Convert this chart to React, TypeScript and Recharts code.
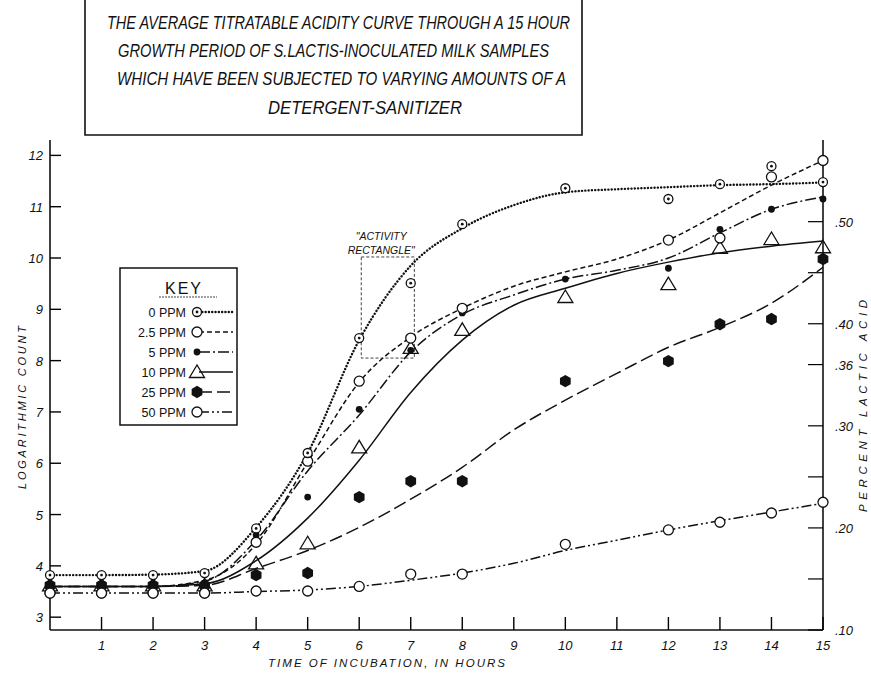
import React from 'react';
import { ComposedChart, Line, Scatter, XAxis, YAxis, ReferenceArea, Legend } from 'recharts';

// ---------- DATA ----------
const seriesNames = ['0 PPM', '2.5 PPM', '5 PPM', '10 PPM', '25 PPM', '50 PPM'];

// fitted curves (read at each hour)
const curveHours = [0, 1, 2, 3, 4, 5, 6, 7, 8, 9, 10, 11, 12, 13, 14, 15];
const fit0 = [3.82, 3.82, 3.83, 3.9, 4.75, 6.2, 8.4, 9.85, 10.58, 11.03, 11.28, 11.34, 11.38, 11.42, 11.44, 11.47];
const fit2_5 = [3.6, 3.6, 3.6, 3.72, 4.42, 6.02, 7.58, 8.46, 9.02, 9.45, 9.73, 9.98, 10.35, 10.88, 11.42, 11.9];
const fit5 = [3.6, 3.6, 3.6, 3.7, 4.5, 5.85, 6.94, 8.17, 8.9, 9.28, 9.59, 9.76, 10.0, 10.49, 10.95, 11.19];
const fit10 = [3.6, 3.6, 3.6, 3.65, 4.1, 4.93, 6.06, 7.38, 8.4, 9.08, 9.41, 9.7, 9.92, 10.1, 10.23, 10.33];
const fit25 = [3.6, 3.6, 3.6, 3.62, 3.95, 4.3, 4.75, 5.3, 5.92, 6.65, 7.23, 7.75, 8.26, 8.65, 9.12, 9.82];
const fit50 = [3.47, 3.47, 3.47, 3.47, 3.5, 3.53, 3.6, 3.72, 3.86, 4.05, 4.3, 4.5, 4.7, 4.88, 5.05, 5.22];

// observed points
const obsHours = [0, 1, 2, 3, 4, 5, 6, 7, 8, 10, 12, 13, 14, 15];
const obs0 = [3.82, 3.82, 3.82, 3.86, 4.73, 6.2, 8.44, 9.51, 10.66, 11.36, 11.15, 11.44, 11.79, 11.48];
const obs2_5 = [3.47, 3.47, 3.47, 3.47, 4.46, 6.04, 7.6, 8.44, 9.02, null, 10.35, 10.39, 11.58, 11.9];
const obs5 = [3.62, 3.62, 3.62, 3.62, 4.6, 5.34, 7.05, 8.2, 8.93, 9.59, 9.8, 10.56, 10.95, 11.15];
const obs10 = [3.62, 3.62, 3.62, 3.62, 4.05, 4.44, 6.31, 8.25, 8.6, 9.24, 9.49, 10.2, 10.37, 10.21];
const obs25 = [3.62, 3.62, 3.62, 3.62, 3.82, 3.86, 5.34, 5.65, 5.65, 7.6, 7.99, 8.71, 8.81, 9.98];
const obs50 = [3.47, 3.47, 3.47, 3.47, 3.51, 3.51, 3.6, 3.84, 3.84, 4.42, 4.7, 4.85, 5.03, 5.24];

const leftTicks = [3, 4, 5, 6, 7, 8, 9, 10, 11, 12];
const xTicks = [1, 2, 3, 4, 5, 6, 7, 8, 9, 10, 11, 12, 13, 14, 15];
const rightTicks = [0.10, 0.15, 0.20, 0.25, 0.30, 0.36, 0.40, 0.45, 0.50];
const rightLabeled = [0.10, 0.20, 0.30, 0.36, 0.40, 0.50];

const titleLines = [
  'THE AVERAGE TITRATABLE ACIDITY CURVE THROUGH A 15 HOUR',
  'GROWTH PERIOD OF S.LACTIS-INOCULATED MILK SAMPLES',
  'WHICH HAVE BEEN SUBJECTED TO VARYING AMOUNTS OF A',
  'DETERGENT-SANITIZER',
];

const rows = (xs: number[], vs: (number | null)[]) =>
  xs.map((h, i) => ({ hour: h, v: vs[i] })).filter((d) => d.v !== null);

// ---------- STYLE ----------
const INK = '#111';
const FONT = '"Liberation Sans", Arial, sans-serif';
const X_MIN = 0;
const X_MAX = 15;
const Y_MIN = 2.75;
const Y_MAX = 12.3;
const R_MIN = 0.1;
const R_MAX = 0.58;

const dashStyles = [
  { dash: '0.1 3.2', w: 2.4, cap: 'round' as const },
  { dash: '5 3', w: 1.5, cap: 'butt' as const },
  { dash: '11 3 2 3', w: 1.5, cap: 'butt' as const },
  { dash: undefined, w: 1.5, cap: 'butt' as const },
  { dash: '13 5', w: 1.5, cap: 'butt' as const },
  { dash: '10 3 2 3 2 3', w: 1.5, cap: 'butt' as const },
];

const CircleDot = ({ cx, cy }: any) => (
  <g>
    <circle cx={cx} cy={cy} r={4.5} fill="#fff" stroke={INK} strokeWidth={1.3} />
    <circle cx={cx} cy={cy} r={1.4} fill={INK} />
  </g>
);
const OpenCircle = ({ cx, cy }: any) => (
  <circle cx={cx} cy={cy} r={5} fill="#fff" stroke={INK} strokeWidth={1.3} />
);
const SmallDot = ({ cx, cy }: any) => <circle cx={cx} cy={cy} r={3.4} fill={INK} />;
const Triangle = ({ cx, cy }: any) => (
  <polygon
    points={`${cx},${cy - 7} ${cx - 7.5},${cy + 5.5} ${cx + 7.5},${cy + 5.5}`}
    fill="none"
    stroke={INK}
    strokeWidth={1.3}
  />
);
const Hexagon = ({ cx, cy }: any) => {
  const pts = [0, 1, 2, 3, 4, 5]
    .map((k) => {
      const a = (Math.PI / 180) * (30 + 60 * k);
      return `${cx + 6.2 * Math.cos(a)},${cy + 6.2 * Math.sin(a)}`;
    })
    .join(' ');
  return <polygon points={pts} fill={INK} />;
};
const markers = [CircleDot, OpenCircle, SmallDot, Triangle, Hexagon, OpenCircle];

const fits = [fit0, fit2_5, fit5, fit10, fit25, fit50];
const obs = [obs0, obs2_5, obs5, obs10, obs25, obs50];

// ---------- TICKS (label + inward tick mark, positioned by the axis scale) ----------
const leftTick = (p: any) => {
  const x = Number(p.x);
  const y = Number(p.y);
  return (
    <g key={'lt' + p.index}>
      <line x1={x + 6} x2={x + 17} y1={y} y2={y} stroke="#000" strokeWidth={1.4} />
      <text x={x - 1} y={y + 5} textAnchor="end" fontFamily={FONT} fontStyle="italic" fontSize={13} fill={INK}>
        {p.payload.value}
      </text>
    </g>
  );
};
const bottomTick = (p: any) => {
  const x = Number(p.x);
  const y = Number(p.y);
  return (
    <g key={'bt' + p.index}>
      <line x1={x} x2={x} y1={y - 8} y2={y - 21} stroke="#000" strokeWidth={1.4} />
      <text x={x} y={y + 12} textAnchor="middle" fontFamily={FONT} fontStyle="italic" fontSize={13} fill={INK}>
        {p.payload.value}
      </text>
    </g>
  );
};
const rightTick = (p: any) => {
  const x = Number(p.x);
  const y = Number(p.y);
  const v = Math.round(p.payload.value * 100) / 100;
  const lab = rightLabeled.some((r) => Math.abs(r - v) < 1e-6);
  return (
    <g key={'rt' + p.index}>
      <line x1={x - 6} x2={x - 21} y1={y} y2={y} stroke="#000" strokeWidth={1.2} />
      {lab && (
        <text x={x + 6} y={y + 5} textAnchor="start" fontFamily={FONT} fontStyle="italic" fontSize={13} fill={INK}>
          {'.' + v.toFixed(2).split('.')[1]}
        </text>
      )}
    </g>
  );
};

// ---------- KEY ----------
const KeyBox = () => {
  const rowY = [45, 65, 85, 105, 125, 145];
  return (
    <svg width={122} height={162} style={{ display: 'block' }}>
      <rect x={1} y={1} width={117} height={157} fill="#fff" stroke={INK} strokeWidth={1.5} />
      <text x={65} y={27} textAnchor="middle" fontFamily={FONT} fontSize={16} letterSpacing={2} fill={INK}>
        KEY
      </text>
      <line x1={40} x2={98} y1={30} y2={30} stroke={INK} strokeWidth={0.8} strokeDasharray="2 1" />
      {seriesNames.map((n, i) => {
        const M = markers[i];
        const d = dashStyles[i];
        return (
          <g key={n}>
            <text x={67} y={rowY[i] + 4.5} textAnchor="end" fontFamily={FONT} fontSize={12.5} fill={INK}>
              {n}
            </text>
            <line
              x1={80}
              x2={114}
              y1={rowY[i]}
              y2={rowY[i]}
              stroke={INK}
              strokeWidth={d.w}
              strokeDasharray={d.dash}
              strokeLinecap={d.cap}
            />
            <M cx={78} cy={rowY[i]} />
          </g>
        );
      })}
    </svg>
  );
};

const ActivityLabel = ({ viewBox }: any) => {
  const cx = viewBox.x + 20;
  return (
    <g fontFamily={FONT} fontStyle="italic" fontSize={10.5} fill={INK}>
      <text x={cx} y={viewBox.y - 17} textAnchor="middle">"ACTIVITY</text>
      <text x={cx} y={viewBox.y - 3} textAnchor="middle">RECTANGLE"</text>
    </g>
  );
};

export default function App() {
  return (
    <div style={{ position: 'absolute', left: 0, top: 0, width: 871, height: 673, background: '#fff', overflow: 'hidden' }}>
      <ComposedChart width={871} height={673} margin={{ top: 140, right: 8, bottom: 13, left: 10 }}>
        <XAxis
          type="number"
          dataKey="hour"
          domain={[X_MIN, X_MAX]}
          ticks={xTicks}
          height={30}
          tickSize={0}
          tickMargin={8}
          tick={bottomTick}
          axisLine={{ stroke: INK, strokeWidth: 1.6 }}
          tickLine={false}
          allowDuplicatedCategory={false}
          label={{
            content: () => (
              <text x={268} y={667} textLength={237} lengthAdjust="spacing" fontFamily={FONT} fontStyle="italic" fontSize={11.5} fill={INK}>
                TIME OF INCUBATION, IN HOURS
              </text>
            ),
          }}
        />
        <YAxis
          yAxisId="left"
          type="number"
          domain={[Y_MIN, Y_MAX]}
          allowDataOverflow
          ticks={leftTicks}
          width={40}
          tickSize={0}
          tickMargin={6}
          tick={leftTick}
          tickLine={false}
          axisLine={{ stroke: INK, strokeWidth: 1.6 }}
          label={{
            content: () => (
              <text
                transform="translate(26,408) rotate(-90)"
                x={-81}
                y={0}
                textLength={163}
                lengthAdjust="spacing"
                fontFamily={FONT}
                fontStyle="italic"
                fontSize={11}
                fill={INK}
              >
                LOGARITHMIC COUNT
              </text>
            ),
          }}
        />
        <YAxis
          yAxisId="right"
          orientation="right"
          type="number"
          domain={[R_MIN, R_MAX]}
          allowDataOverflow
          ticks={rightTicks}
          width={40}
          tickSize={0}
          tickMargin={6}
          tick={rightTick}
          tickLine={false}
          axisLine={{ stroke: INK, strokeWidth: 1.6 }}
          label={{
            content: () => (
              <text
                transform="translate(867,406) rotate(-90)"
                x={-106}
                y={0}
                textLength={212}
                lengthAdjust="spacing"
                fontFamily={FONT}
                fontStyle="italic"
                fontSize={11.5}
                fill={INK}
              >
                PERCENT LACTIC ACID
              </text>
            ),
          }}
        />
        <ReferenceArea
          yAxisId="left"
          x1={6.04}
          x2={7.07}
          y1={8.05}
          y2={10.02}
          fill="none"
          fillOpacity={0}
          stroke={INK}
          strokeWidth={0.8}
          strokeDasharray="3 2"
          ifOverflow="visible"
          label={<ActivityLabel />}
        />
        {fits.map((f, i) => (
          <Line
            key={'fit' + i}
            yAxisId="left"
            data={rows(curveHours, f)}
            dataKey="v"
            name={seriesNames[i]}
            type="monotone"
            stroke={INK}
            strokeWidth={dashStyles[i].w}
            strokeDasharray={dashStyles[i].dash}
            strokeLinecap={dashStyles[i].cap}
            dot={false}
            activeDot={false}
            legendType="none"
            isAnimationActive={false}
          />
        ))}
        {[4, 3, 2, 5, 1, 0].map((i) => (
          <Scatter
            key={'obs' + i}
            yAxisId="left"
            data={rows(obsHours, obs[i])}
            dataKey="v"
            name={seriesNames[i] + ' obs'}
            shape={markers[i]}
            legendType="none"
            isAnimationActive={false}
          />
        ))}
        <Legend
          layout="horizontal"
          verticalAlign="middle"
          align="center"
          content={() => <KeyBox />}
          wrapperStyle={{ position: 'absolute', left: 119, top: 267, width: 122, height: 162 }}
        />
      </ComposedChart>
      <svg width={871} height={140} style={{ position: 'absolute', left: 0, top: 0, pointerEvents: 'none' }}>
        <path d="M85,-2 V135 H582 V-2" fill="#fff" stroke={INK} strokeWidth={1.6} />
        {[
          { x: 107, y: 29, w: 463 },
          { x: 118, y: 57, w: 431 },
          { x: 117, y: 85, w: 449 },
          { x: 268, y: 114, w: 194 },
        ].map((p, i) => (
          <text
            key={i}
            x={p.x}
            y={p.y}
            textLength={p.w}
            lengthAdjust="spacingAndGlyphs"
            fontFamily={FONT}
            fontStyle="italic"
            fontSize={19}
            fill={INK}
          >
            {titleLines[i]}
          </text>
        ))}
      </svg>
    </div>
  );
}
